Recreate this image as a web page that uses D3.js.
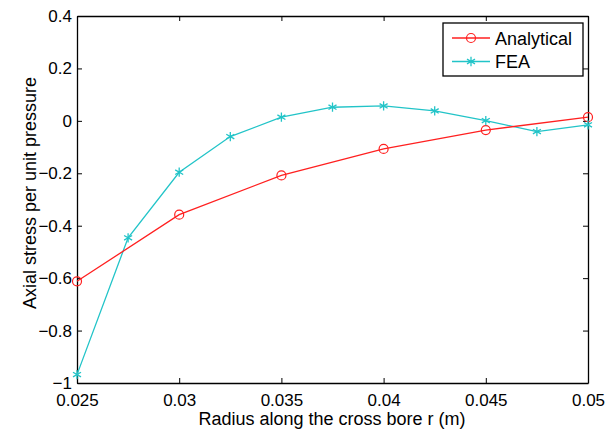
<!DOCTYPE html>
<html>
<head>
<meta charset="utf-8">
<script src="https://cdn.jsdelivr.net/npm/d3@7"></script>
<style>
  body { margin: 0; background: #fff; }
  text { font-family: Arial, "Liberation Sans", sans-serif; fill: #000; }
</style>
</head>
<body>
<svg id="chart" width="616" height="430"></svg>
<script>
// values
var analyticalX = [0.025, 0.03, 0.035, 0.04, 0.045, 0.05];
var analyticalY = [-0.612, -0.358, -0.208, -0.107, -0.035, 0.014];
var feaX = [0.025, 0.0275, 0.03, 0.0325, 0.035, 0.0375, 0.04, 0.0425, 0.045, 0.0475, 0.05];
var feaY = [-0.968, -0.446, -0.196, -0.06, 0.014, 0.052, 0.057, 0.038, 0.001, -0.041, -0.015];
var xTicks = [0.025, 0.03, 0.035, 0.04, 0.045, 0.05];
var yTicks = [-1, -0.8, -0.6, -0.4, -0.2, 0, 0.2, 0.4];

var svg = d3.select("#chart"),
    margin = {top: 16, right: 28, bottom: 47, left: 77},
    width = 616 - margin.left - margin.right,
    height = 430 - margin.top - margin.bottom;

var x = d3.scaleLinear().domain([0.025, 0.05]).range([0, width]),
    y = d3.scaleLinear().domain([-1, 0.4]).range([height, 0]);

var g = svg.append("g")
    .attr("transform", "translate(" + margin.left + "," + margin.top + ")");

function fmt(d) { return d3.format("")(+d.toFixed(3)); }

// bottom + top axes, ticks pointing inward
var xb = g.append("g")
    .attr("transform", "translate(0," + height + ")")
    .call(d3.axisBottom(x).tickValues(xTicks).tickSizeInner(-5).tickSizeOuter(0).tickPadding(11).tickFormat(fmt));
var xt = g.append("g")
    .call(d3.axisTop(x).tickValues(xTicks).tickSizeInner(-5).tickSizeOuter(0).tickFormat(""));
var yl = g.append("g")
    .call(d3.axisLeft(y).tickValues(yTicks).tickSizeInner(-5).tickSizeOuter(0).tickPadding(5).tickFormat(fmt));
var yr = g.append("g")
    .attr("transform", "translate(" + width + ",0)")
    .call(d3.axisRight(y).tickValues(yTicks).tickSizeInner(-5).tickSizeOuter(0).tickFormat(""));

[xb, xt, yl, yr].forEach(function(a) {
  a.select(".domain").attr("stroke", "#000").attr("stroke-width", 1.3);
  a.selectAll(".tick line").attr("stroke", "#000");
  a.selectAll(".tick text").style("font-size", "17px").attr("font-family", "Arial, 'Liberation Sans', sans-serif");
});
xb.selectAll(".tick text").attr("dy", "0.71em");

// lines
var line = d3.line()
    .x(function(d) { return x(d[0]); })
    .y(function(d) { return y(d[1]); });

var analytical = analyticalX.map(function(v, i) { return [v, analyticalY[i]]; });
var fea = feaX.map(function(v, i) { return [v, feaY[i]]; });

var red = "#ff2020", cyan = "#22c4c8";

g.append("path").datum(fea)
    .attr("fill", "none").attr("stroke", cyan).attr("stroke-width", 1.3)
    .attr("d", line);
g.append("path").datum(analytical)
    .attr("fill", "none").attr("stroke", red).attr("stroke-width", 1.3)
    .attr("d", line);

g.selectAll(".circ")
    .data(analytical)
    .enter().append("circle")
    .attr("class", "circ")
    .attr("cx", function(d) { return x(d[0]); })
    .attr("cy", function(d) { return y(d[1]); })
    .attr("r", 4.5)
    .attr("fill", "none").attr("stroke", red).attr("stroke-width", 1.2);

var star = d3.symbol().type(d3.symbolAsterisk).size(60);
g.selectAll(".star")
    .data(fea)
    .enter().append("path")
    .attr("class", "star")
    .attr("transform", function(d) { return "translate(" + x(d[0]) + "," + y(d[1]) + ")"; })
    .attr("d", star)
    .attr("fill", "none").attr("stroke", cyan).attr("stroke-width", 1.3);

// legend
var lg = svg.append("g").attr("transform", "translate(443,23)");
lg.append("rect")
    .attr("width", 140).attr("height", 53)
    .attr("fill", "#fff").attr("stroke", "#000").attr("stroke-width", 1.3);

lg.append("line").attr("x1", 9).attr("x2", 47).attr("y1", 15).attr("y2", 15)
    .attr("stroke", red).attr("stroke-width", 1.3);
lg.append("circle").attr("cx", 28).attr("cy", 15).attr("r", 4.5)
    .attr("fill", "none").attr("stroke", red).attr("stroke-width", 1.2);
lg.append("text").attr("x", 52).attr("y", 21.5).style("font-size", "18px").text("Analytical");

lg.append("line").attr("x1", 9).attr("x2", 47).attr("y1", 38.5).attr("y2", 38.5)
    .attr("stroke", cyan).attr("stroke-width", 1.3);
lg.append("path").attr("transform", "translate(28,38.5)").attr("d", star)
    .attr("fill", "none").attr("stroke", cyan).attr("stroke-width", 1.3);
lg.append("text").attr("x", 52).attr("y", 45).style("font-size", "18px").text("FEA");

// axis labels
svg.append("text")
    .attr("x", 332).attr("y", 425)
    .attr("text-anchor", "middle").style("font-size", "18px")
    .text("Radius along the cross bore r (m)");
svg.append("text")
    .attr("transform", "translate(36,193) rotate(-90)")
    .attr("text-anchor", "middle").style("font-size", "18px")
    .text("Axial stress per unit pressure");
</script>
</body>
</html>
